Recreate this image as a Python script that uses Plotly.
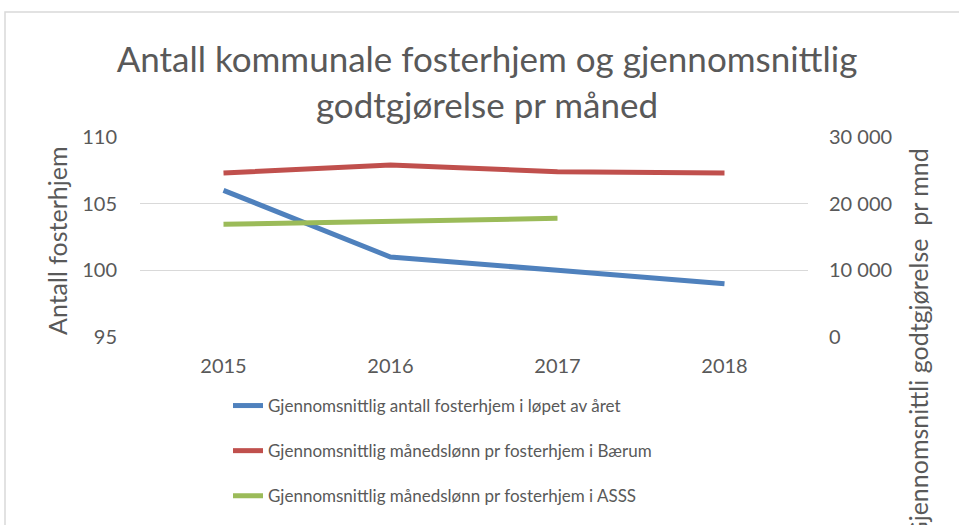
import plotly.graph_objects as go

years = ["2015", "2016", "2017", "2018"]
antall = [106, 101, 100, 99]
baerum = [24600, 25800, 24800, 24600]
asss = [16900, 17300, 17800]

names = [
    "Gjennomsnittlig antall fosterhjem i løpet av året",
    "Gjennomsnittlig månedslønn pr fosterhjem i Bærum",
    "Gjennomsnittlig månedslønn pr fosterhjem i ASSS",
]
colors = ["#4F81BD", "#C0504D", "#9BBB59"]

W, H = 959, 525
L, R, T, B = 140, 808, 137, 337
FONT = "Lato"
GREY = "#595959"

def px_x(x):
    return (x - L) / (R - L)

def px_y(y):
    return (B - y) / (B - T)

fig = go.Figure()
fig.add_trace(go.Scatter(x=years, y=antall, name=names[0], mode="lines",
                         line=dict(color=colors[0], width=5), legendgroup="a"))
fig.add_trace(go.Scatter(x=years, y=baerum, name=names[1], mode="lines", yaxis="y2",
                         line=dict(color=colors[1], width=5), legendgroup="b"))
fig.add_trace(go.Scatter(x=years[:3], y=asss, name=names[2], mode="lines", yaxis="y2",
                         line=dict(color=colors[2], width=5), legendgroup="c"))

fig.update_layout(
    width=W, height=H,
    margin=dict(l=L, r=W - R, t=T, b=H - B, pad=0, autoexpand=False),
    paper_bgcolor="white", plot_bgcolor="white",
    separators=", ",
    font=dict(family=FONT, color=GREY, size=20),
    title=dict(text="Antall kommunale fosterhjem og gjennomsnittlig<br>godtgjørelse pr måned",
               x=487 / W, xanchor="center", y=1 - 72 / H, yanchor="top",
               xref="container", yref="container",
               font=dict(family=FONT, size=35, color=GREY)),
    xaxis=dict(type="category", range=[-0.5, 3.5], showgrid=False, zeroline=False,
               showline=False, ticks="", tickfont=dict(size=20, color=GREY),
               ticklabelstandoff=15),
    yaxis=dict(range=[95, 110], dtick=5, showgrid=True, gridcolor="#D9D9D9", gridwidth=1,
               zeroline=False, showline=False, tickfont=dict(size=20, color=GREY),
               ticklabelstandoff=22),
    yaxis2=dict(range=[0, 30000], dtick=10000, overlaying="y", side="right",
                showgrid=False, zeroline=False, showline=False, tickformat=",d",
                tickfont=dict(size=20, color=GREY), ticklabelstandoff=20),
    showlegend=True,
    legend=dict(x=px_x(228), xanchor="left", y=px_y(388), yanchor="top",
                orientation="v", tracegroupgap=20, bgcolor="rgba(0,0,0,0)",
                font=dict(family=FONT, size=17, color=GREY), itemwidth=30),
)

fig.add_annotation(text="Antall fosterhjem", textangle=-90, showarrow=False,
                   xref="paper", yref="paper", x=px_x(57), y=px_y(241),
                   xanchor="center", yanchor="middle",
                   font=dict(family=FONT, size=25, color=GREY))
fig.add_annotation(text="Gjennomsnittli godtgjørelse\u00a0\u00a0pr mnd", textangle=-90,
                   showarrow=False, xref="paper", yref="paper",
                   x=px_x(917), y=px_y(147), xanchor="center", yanchor="top",
                   font=dict(family=FONT, size=25, color=GREY))

fig.add_shape(type="rect", xref="paper", yref="paper",
              x0=px_x(5), x1=px_x(1100), y0=px_y(700), y1=px_y(12),
              line=dict(color="#D9D9D9", width=1.5), fillcolor="rgba(0,0,0,0)",
              layer="below")

fig.write_html("out.html", config={"displayModeBar": False},
               post_script="document.body.style.margin='0';document.body.style.overflow='hidden';")
